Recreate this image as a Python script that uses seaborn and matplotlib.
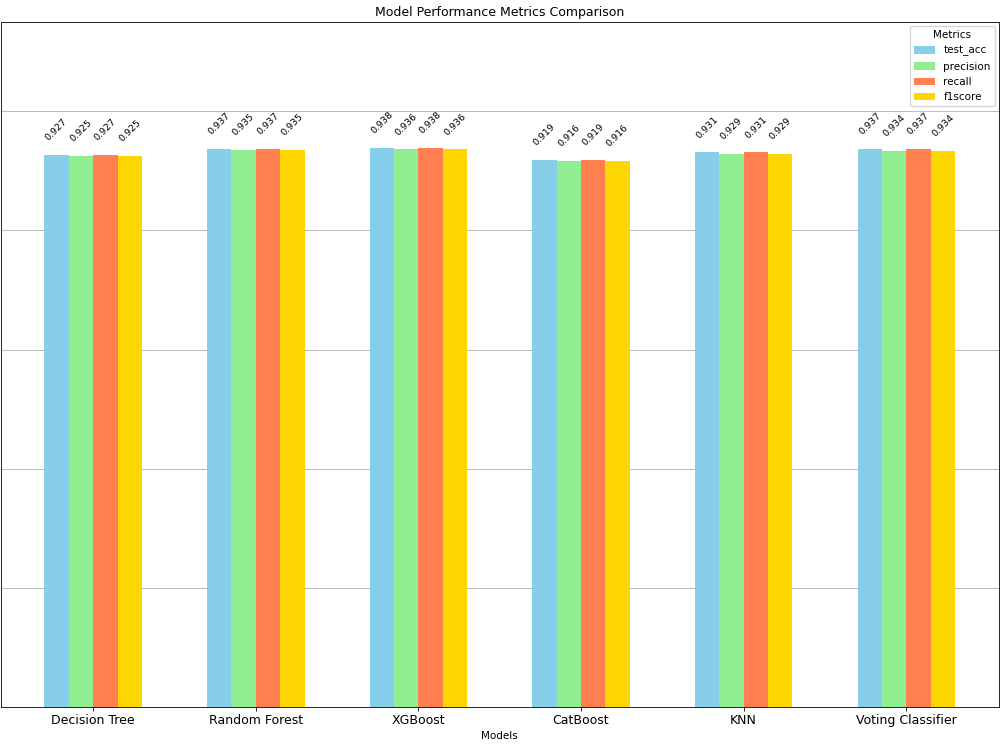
import matplotlib
matplotlib.use("Agg")
import matplotlib.pyplot as plt
import seaborn as sns
import pandas as pd

models = ["Decision Tree", "Random Forest", "XGBoost", "CatBoost", "KNN", "Voting Classifier"]
metrics = ["test_acc", "precision", "recall", "f1score"]
test_acc = [0.927, 0.937, 0.938, 0.919, 0.931, 0.937]
precision = [0.925, 0.935, 0.936, 0.916, 0.929, 0.934]
recall = [0.927, 0.937, 0.938, 0.919, 0.931, 0.937]
f1score = [0.925, 0.935, 0.936, 0.916, 0.929, 0.934]
colors = ["skyblue", "lightgreen", "coral", "gold"]

series = {"test_acc": test_acc, "precision": precision, "recall": recall, "f1score": f1score}
rows = []
for m in metrics:
    for mod, v in zip(models, series[m]):
        rows.append({"Models": mod, "Metric": m, "Score": v})
df = pd.DataFrame(rows)

fig = plt.figure(figsize=(10, 7.5), dpi=100)
ax = fig.add_axes([0.0005, 0.0573, 0.9985, 0.9134])
sns.barplot(data=df, x="Models", y="Score", hue="Metric", order=models, hue_order=metrics,
            palette=colors, width=0.6, linewidth=0, saturation=1, ax=ax, errorbar=None, zorder=3)

for cont in ax.containers:
    for bar in cont:
        h = bar.get_height()
        ax.annotate(f"{h:.3f}", (bar.get_x() + bar.get_width() / 2, h), xytext=(0, 9),
                    textcoords="offset points", ha="center", va="bottom", rotation=45, fontsize=6.8)

ax.set_xlim(-0.57, 5.57)
ax.set_ylim(0, 1.15)
ax.set_yticks([0, 0.2, 0.4, 0.6, 0.8, 1.0])
ax.tick_params(axis="y", left=False, labelleft=False)
ax.tick_params(axis="x", labelsize=9, length=2.6, width=0.6, pad=2.6)
for s in ax.spines.values():
    s.set_linewidth(0.6)
ax.grid(axis="y", color="#b0b0b0", linewidth=0.6, zorder=0)
ax.set_axisbelow(True)
ax.set_ylabel("")
ax.set_xlabel("Models", fontsize=7.5, labelpad=3)
ax.set_title("Model Performance Metrics Comparison", fontsize=9, pad=4.5)
ax.legend(title="Metrics", loc="upper right", fontsize=7.5, title_fontsize=7.5, borderaxespad=0.4)

fig.savefig("out.png", dpi=100)
